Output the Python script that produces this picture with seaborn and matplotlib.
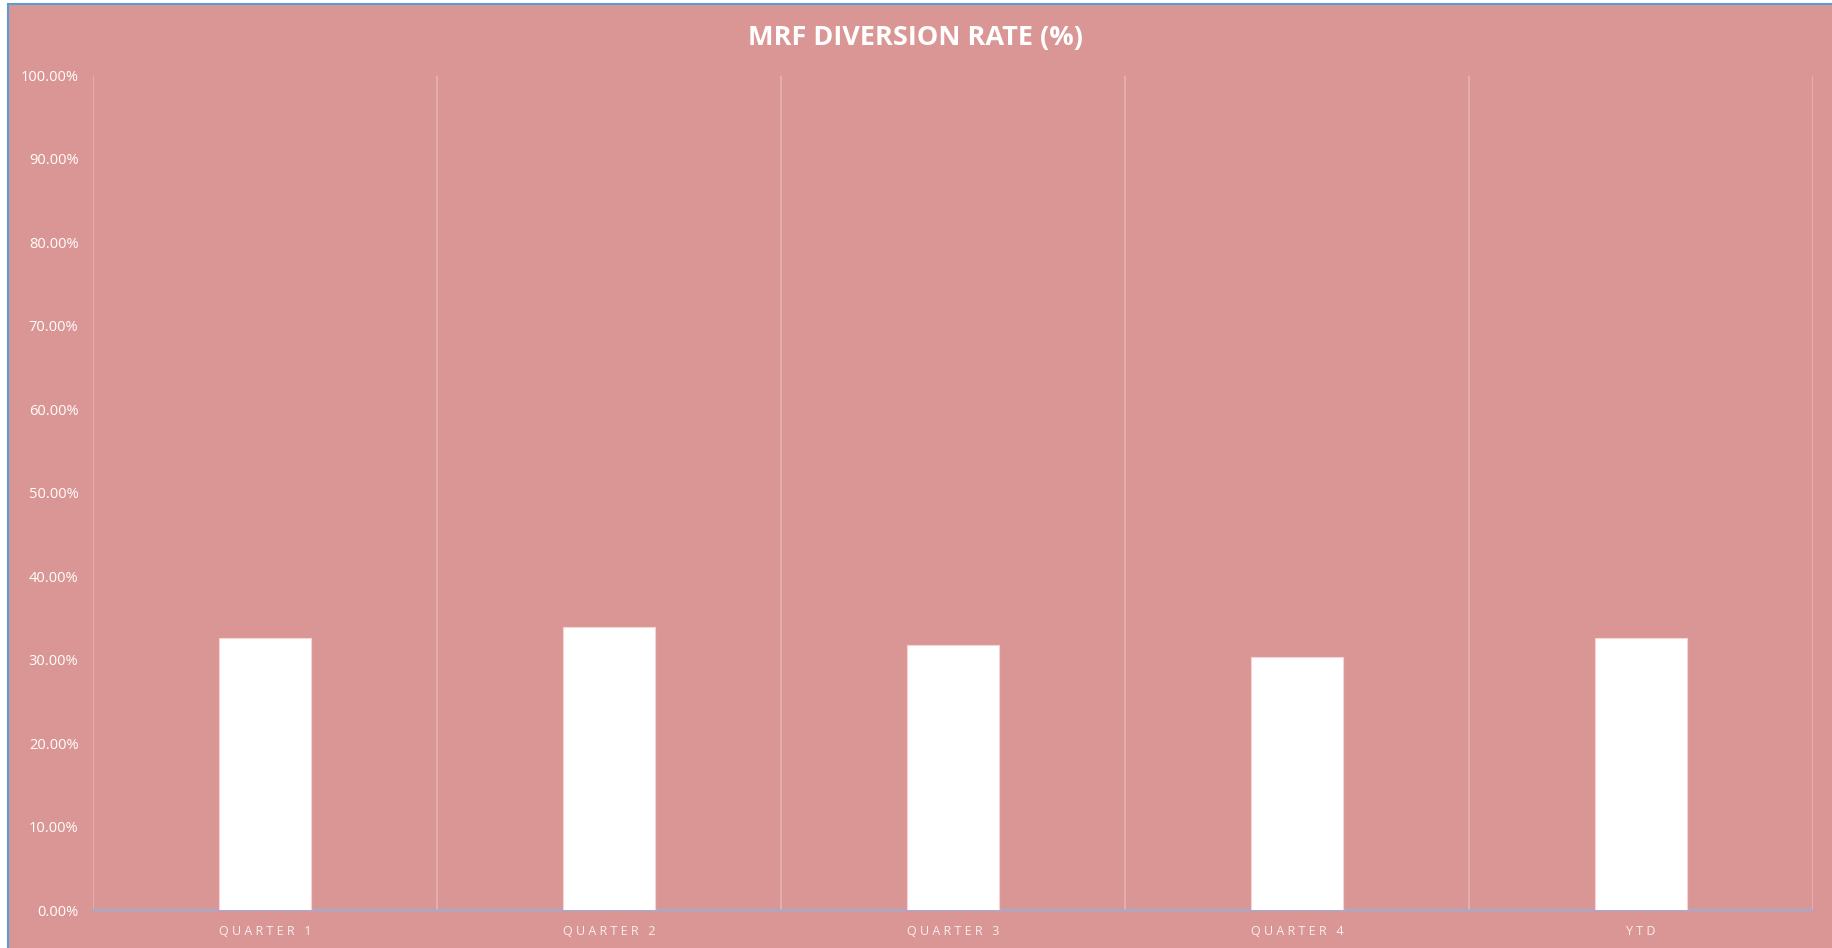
import numpy as np
import pandas as pd
import matplotlib.pyplot as plt
from matplotlib.patches import Rectangle
from matplotlib.ticker import FuncFormatter, MultipleLocator
import seaborn as sns

# Donnees du graphique
periodes = ["QUARTER 1", "QUARTER 2", "QUARTER 3", "QUARTER 4", "YTD"]
taux = [0.3257, 0.3393, 0.3174, 0.3030, 0.3255]

df = pd.DataFrame({"periode": periodes, "taux": taux})

fond = "#DA9694"
sns.set_style("white")
plt.rcParams["font.family"] = ["Open Sans", "DejaVu Sans"]

fig = plt.figure(figsize=(18.32, 9.48), dpi=100, facecolor="white")
# cadre du graphique (coupe a droite et en bas)
fig.patches.append(Rectangle((8 / 1832, -0.01), 1.02, 1 - 4 / 948 + 0.01,
                             transform=fig.transFigure, facecolor=fond,
                             edgecolor="#5B9BD5", linewidth=1.5, zorder=-5))

ax = fig.add_axes([93 / 1832, 1 - 910 / 948, (1813 - 93) / 1832, (910 - 75.5) / 948])
ax.set_zorder(2)
ax.set_facecolor("none")

sns.barplot(data=df, x="periode", y="taux", color="white", width=0.27,
            saturation=1, edgecolor="#F5D5D4", linewidth=0.8, ax=ax, zorder=3)

ax.set_xlim(-0.5, len(periodes) - 0.5)
ax.set_ylim(0, 1)
ax.yaxis.set_major_locator(MultipleLocator(0.1))
ax.yaxis.set_major_formatter(FuncFormatter(lambda v, p: f"{v * 100:.2f}%"))

# lignes verticales entre les categories
for b in np.arange(-0.5, len(periodes), 1.0):
    ax.axvline(b, color="#E8B4B2", linewidth=1.2, zorder=1)

for s in ["top", "right", "left"]:
    ax.spines[s].set_visible(False)
ax.spines["bottom"].set_color("#8DB3E2")
ax.spines["bottom"].set_linewidth(1.2)

ax.set_xticks(range(len(periodes)))
ax.set_xticklabels([" ".join(p) for p in periodes],
                   color="#F7F0F0", fontsize=9)
ax.tick_params(axis="x", length=0, pad=10.5)
ax.tick_params(axis="y", length=0, pad=10.5, labelsize=10.5, labelcolor="white")
ax.set_xlabel("")
ax.set_ylabel("")

fig.text(0.5, 1 - 38.5 / 948, "MRF DIVERSION RATE (%)", ha="center", va="center",
         color="white", fontsize=19.5, fontweight="bold", zorder=5)

fig.savefig("out.png", dpi=100, facecolor="white")
